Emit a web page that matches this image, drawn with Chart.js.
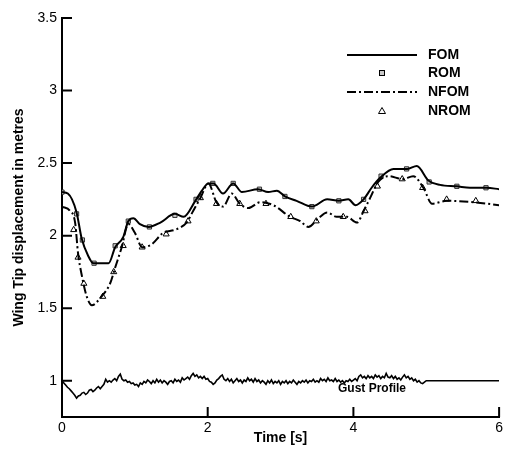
<!DOCTYPE html>
<html>
<head>
<meta charset="utf-8">
<script src="https://cdn.jsdelivr.net/npm/chart.js@4/dist/chart.umd.min.js"></script>
<style>
  html, body { margin: 0; padding: 0; background: #fff; }
  #wrap { width: 506px; height: 454px; }
</style>
</head>
<body>
<div id="wrap"><canvas id="tipChart"></canvas></div>
<script>
// FOM (full order model), solid line
const fomT = [0, 0.08, 0.2, 0.27, 0.36, 0.43, 0.64, 0.73, 0.84, 0.91, 0.98, 1.07, 1.19, 1.35, 1.55, 1.67,
              1.83, 1.92, 2.01, 2.08, 2.21, 2.35, 2.47, 2.69, 2.83, 2.95, 3.06, 3.22, 3.43, 3.64, 3.80,
              3.93, 4.03, 4.14, 4.25, 4.37, 4.55, 4.74, 4.87, 5.03, 5.19, 5.42, 5.60, 5.83, 6.0];
const fomV = [2.30, 2.29, 2.16, 1.98, 1.86, 1.81, 1.81, 1.92, 1.99, 2.10, 2.12, 2.08, 2.06, 2.09, 2.15, 2.13,
              2.24, 2.31, 2.36, 2.36, 2.29, 2.36, 2.30, 2.32, 2.30, 2.31, 2.27, 2.24, 2.20, 2.25, 2.24,
              2.25, 2.21, 2.25, 2.33, 2.40, 2.46, 2.46, 2.48, 2.38, 2.35, 2.34, 2.33, 2.33, 2.32];

// ROM, square markers
const romT = [0, 0.2, 0.28, 0.44, 0.73, 0.91, 1.20, 1.55, 1.84, 2.07, 2.35, 2.71, 3.06, 3.43, 3.80, 4.14,
              4.38, 4.73, 5.04, 5.42, 5.82];
const romV = [2.30, 2.15, 1.97, 1.81, 1.93, 2.10, 2.06, 2.14, 2.25, 2.36, 2.36, 2.32, 2.27, 2.20, 2.24, 2.25,
              2.41, 2.46, 2.37, 2.34, 2.33];

// NFOM, dash-dot line
const nfomT = [0, 0.11, 0.18, 0.22, 0.27, 0.34, 0.41, 0.54, 0.66, 0.73, 0.82, 0.91, 1.0, 1.10, 1.23, 1.39,
               1.55, 1.71, 1.80, 1.90, 2.01, 2.12, 2.21, 2.33, 2.44, 2.56, 2.72, 2.90, 3.13, 3.27, 3.38,
               3.52, 3.64, 3.77, 3.91, 4.05, 4.14, 4.23, 4.34, 4.48, 4.68, 4.82, 4.96, 5.08, 5.28, 5.65, 6.0];
const nfomV = [2.20, 2.17, 2.09, 1.88, 1.73, 1.58, 1.52, 1.58, 1.67, 1.78, 1.92, 2.08, 2.02, 1.92, 1.94, 2.02,
               2.04, 2.09, 2.17, 2.26, 2.36, 2.23, 2.20, 2.29, 2.22, 2.19, 2.23, 2.21, 2.13, 2.10, 2.06,
               2.12, 2.16, 2.13, 2.13, 2.09, 2.17, 2.26, 2.37, 2.41, 2.39, 2.41, 2.33, 2.22, 2.24, 2.23, 2.21];

// NROM, triangle markers
const nromT = [0.16, 0.22, 0.30, 0.56, 0.71, 0.84, 1.10, 1.43, 1.73, 1.90, 2.12, 2.44, 2.80, 3.14, 3.49,
               3.86, 4.16, 4.33, 4.67, 4.95, 5.28, 5.68];
const nromV = [2.04, 1.85, 1.67, 1.58, 1.75, 1.93, 1.92, 2.01, 2.10, 2.26, 2.22, 2.22, 2.22, 2.13, 2.10,
               2.13, 2.17, 2.34, 2.39, 2.33, 2.25, 2.24];

// Gust profile
const gustT = [
    0.000, 0.025, 0.050, 0.075, 0.100, 0.125, 0.150, 0.175, 0.200, 0.225, 0.250, 0.275, 0.300, 0.325, 0.350, 0.375,
    0.400, 0.425, 0.450, 0.475, 0.500, 0.525, 0.550, 0.575, 0.600, 0.625, 0.650, 0.675, 0.700, 0.725, 0.750, 0.775,
    0.800, 0.825, 0.850, 0.875, 0.900, 0.925, 0.950, 0.975, 1.000, 1.025, 1.050, 1.075, 1.100, 1.125, 1.150, 1.175,
    1.200, 1.225, 1.250, 1.275, 1.300, 1.325, 1.350, 1.375, 1.400, 1.425, 1.450, 1.475, 1.500, 1.525, 1.550, 1.575,
    1.600, 1.625, 1.650, 1.675, 1.700, 1.725, 1.750, 1.775, 1.800, 1.825, 1.850, 1.875, 1.900, 1.925, 1.950, 1.975,
    2.000, 2.025, 2.050, 2.075, 2.100, 2.125, 2.150, 2.175, 2.200, 2.225, 2.250, 2.275, 2.300, 2.325, 2.350, 2.375,
    2.400, 2.425, 2.450, 2.475, 2.500, 2.525, 2.550, 2.575, 2.600, 2.625, 2.650, 2.675, 2.700, 2.725, 2.750, 2.775,
    2.800, 2.825, 2.850, 2.875, 2.900, 2.925, 2.950, 2.975, 3.000, 3.025, 3.050, 3.075, 3.100, 3.125, 3.150, 3.175,
    3.200, 3.225, 3.250, 3.275, 3.300, 3.325, 3.350, 3.375, 3.400, 3.425, 3.450, 3.475, 3.500, 3.525, 3.550, 3.575,
    3.600, 3.625, 3.650, 3.675, 3.700, 3.725, 3.750, 3.775, 3.800, 3.825, 3.850, 3.875, 3.900, 3.925, 3.950, 3.975,
    4.000, 4.025, 4.050, 4.075, 4.100, 4.125, 4.150, 4.175, 4.200, 4.225, 4.250, 4.275, 4.300, 4.325, 4.350, 4.375,
    4.400, 4.425, 4.450, 4.475, 4.500, 4.525, 4.550, 4.575, 4.600, 4.625, 4.650, 4.675, 4.700, 4.725, 4.750, 4.775,
    4.800, 4.825, 4.850, 4.875, 4.900, 4.925, 4.950, 4.975, 5.000, 6.000];
const gustV = [
    1.000, 0.985, 0.970, 0.955, 0.945, 0.930, 0.915, 0.900, 0.880, 0.895, 0.900, 0.915, 0.920, 0.905, 0.915, 0.935,
    0.940, 0.925, 0.935, 0.950, 0.960, 0.945, 0.960, 0.975, 1.010, 0.990, 1.000, 0.990, 1.005, 1.015, 1.000, 1.030,
    1.045, 1.010, 1.000, 1.005, 0.990, 0.995, 0.980, 0.985, 0.970, 0.975, 0.960, 0.985, 0.975, 0.995, 0.985, 1.005,
    0.995, 0.980, 1.000, 0.985, 1.010, 0.990, 1.005, 0.985, 1.000, 0.990, 0.975, 0.995, 1.000, 0.985, 1.010, 0.995,
    1.005, 0.990, 1.020, 1.005, 1.015, 1.025, 1.010, 1.035, 1.050, 1.030, 1.040, 1.020, 1.030, 1.015, 1.030, 1.010,
    1.015, 0.995, 0.990, 0.975, 0.985, 1.005, 1.015, 1.030, 1.040, 1.010, 1.000, 1.015, 0.995, 1.010, 0.985, 1.000,
    1.015, 0.995, 1.005, 0.985, 1.005, 0.995, 1.020, 1.000, 1.010, 0.990, 1.015, 0.995, 1.005, 0.985, 1.000, 0.990,
    0.975, 1.000, 0.985, 1.005, 0.980, 0.995, 0.985, 1.000, 0.975, 0.995, 0.985, 1.000, 0.980, 0.995, 0.985, 1.005,
    0.990, 0.975, 0.995, 0.985, 1.000, 0.990, 1.005, 0.985, 1.000, 0.995, 1.010, 0.990, 1.000, 0.990, 1.015, 1.000,
    1.010, 0.995, 1.020, 1.000, 1.005, 0.995, 1.015, 0.995, 1.005, 0.990, 1.000, 0.985, 1.000, 0.995, 1.010, 0.995,
    1.005, 1.015, 1.000, 1.030, 1.040, 1.020, 1.030, 1.015, 1.035, 1.020, 1.030, 1.015, 1.040, 1.025, 1.035, 1.015,
    1.030, 1.020, 1.050, 1.025, 1.020, 1.035, 1.015, 1.030, 1.010, 1.020, 1.005, 1.025, 1.040, 1.020, 1.030, 1.010,
    1.020, 1.000, 1.010, 0.990, 1.000, 0.985, 0.980, 0.990, 1.000, 1.000];

const xTicks = [0, 2, 4, 6];
const yTicks = [1, 1.5, 2, 2.5, 3, 3.5];
const legendLabels = ["FOM", "ROM", "NFOM", "NROM"];

function pts(t, v) {
    return t.map(function(x, i) { return { x: x, y: v[i] }; });
}

const dashDot = [9, 3, 2, 3];
const fontFam = "'Liberation Sans', Arial, sans-serif";

// inward ticks, legend and gust label
const extras = {
    id: "extras",
    afterDraw: function(chart) {
        const ctx = chart.ctx;
        const xs = chart.scales.x;
        const ys = chart.scales.y;
        ctx.save();
        ctx.strokeStyle = "#000";
        ctx.lineWidth = 2;
        ctx.beginPath();
        yTicks.forEach(function(v) {
            const y = ys.getPixelForValue(v);
            ctx.moveTo(xs.left, y);
            ctx.lineTo(xs.left + 10, y);
        });
        xTicks.forEach(function(v) {
            const x = xs.getPixelForValue(v);
            ctx.moveTo(x, ys.bottom);
            ctx.lineTo(x, ys.bottom - 10);
        });
        ctx.stroke();

        // legend
        const lx0 = 347, lx1 = 417, tx = 428;
        const rows = [55, 73, 92, 111];
        ctx.font = "bold 14px " + fontFam;
        ctx.fillStyle = "#000";
        ctx.textBaseline = "middle";
        ctx.textAlign = "left";
        legendLabels.forEach(function(lab, i) {
            ctx.fillText(lab, tx, rows[i]);
        });
        ctx.lineWidth = 2;
        ctx.beginPath();
        ctx.moveTo(lx0, rows[0]);
        ctx.lineTo(lx1, rows[0]);
        ctx.stroke();
        ctx.setLineDash(dashDot);
        ctx.beginPath();
        ctx.moveTo(lx0, rows[2]);
        ctx.lineTo(lx1, rows[2]);
        ctx.stroke();
        ctx.setLineDash([]);
        const mx = (lx0 + lx1) / 2;
        ctx.lineWidth = 1;
        ctx.fillStyle = "#c8c8c8";
        ctx.fillRect(mx - 2.5, rows[1] - 2.5, 5, 5);
        ctx.strokeRect(mx - 2.5, rows[1] - 2.5, 5, 5);
        ctx.fillStyle = "#fff";
        ctx.beginPath();
        ctx.moveTo(mx, rows[3] - 3.5);
        ctx.lineTo(mx + 3.5, rows[3] + 2.5);
        ctx.lineTo(mx - 3.5, rows[3] + 2.5);
        ctx.closePath();
        ctx.fill();
        ctx.stroke();

        // gust label
        ctx.fillStyle = "#000";
        ctx.font = "bold 12px " + fontFam;
        ctx.textAlign = "center";
        ctx.fillText("Gust Profile", 372, 389);
        ctx.restore();
    }
};

const ctx = document.getElementById("tipChart").getContext("2d");

new Chart(ctx, {
    type: "line",
    data: {
        datasets: [
            {
                label: "Gust Profile",
                data: pts(gustT, gustV),
                borderColor: "#000",
                borderWidth: 1.6,
                pointRadius: 0,
                tension: 0
            },
            {
                label: "FOM",
                data: pts(fomT, fomV),
                borderColor: "#000",
                borderWidth: 2,
                pointRadius: 0,
                cubicInterpolationMode: "monotone"
            },
            {
                label: "NFOM",
                data: pts(nfomT, nfomV),
                borderColor: "#000",
                borderWidth: 2,
                borderDash: dashDot,
                pointRadius: 0,
                cubicInterpolationMode: "monotone"
            },
            {
                label: "ROM",
                data: pts(romT, romV),
                showLine: false,
                pointStyle: "rect",
                pointRadius: 3,
                pointBackgroundColor: "#c8c8c8",
                pointBorderColor: "#333",
                pointBorderWidth: 1
            },
            {
                label: "NROM",
                data: pts(nromT, nromV),
                showLine: false,
                pointStyle: "triangle",
                pointRadius: 3.5,
                pointBackgroundColor: "#fff",
                pointBorderColor: "#000",
                pointBorderWidth: 1
            }
        ]
    },
    options: {
        responsive: true,
        maintainAspectRatio: false,
        animation: false,
        layout: { padding: { top: 18, right: 6, left: 0, bottom: 0 } },
        scales: {
            x: {
                type: "linear",
                min: 0,
                max: 6,
                afterBuildTicks: function(s) { s.ticks = xTicks.map(function(v) { return { value: v }; }); },
                afterFit: function(s) { s.height = 37; },
                grid: { display: false, drawTicks: false },
                border: { display: true, color: "#000", width: 2 },
                ticks: {
                    padding: 3,
                    color: "#000",
                    font: { family: fontFam, size: 14 }
                },
                title: {
                    display: true,
                    text: "Time [s]",
                    color: "#000",
                    padding: { top: 0, bottom: 7 },
                    font: { family: fontFam, size: 14, weight: "bold" }
                }
            },
            y: {
                type: "linear",
                min: 0.75,
                max: 3.5,
                afterBuildTicks: function(s) { s.ticks = yTicks.map(function(v) { return { value: v }; }); },
                afterFit: function(s) { s.width = 62; },
                grid: { display: false, drawTicks: false },
                border: { display: true, color: "#000", width: 2 },
                ticks: {
                    padding: 5,
                    color: "#000",
                    font: { family: fontFam, size: 14 },
                    callback: function(v) { return String(v); }
                },
                title: {
                    display: true,
                    text: "Wing Tip displacement in metres",
                    color: "#000",
                    padding: { top: 11, bottom: 0 },
                    font: { family: fontFam, size: 14, weight: "bold" }
                }
            }
        },
        plugins: {
            legend: { display: false },
            tooltip: { enabled: false }
        }
    },
    plugins: [extras]
});
</script>
</body>
</html>
